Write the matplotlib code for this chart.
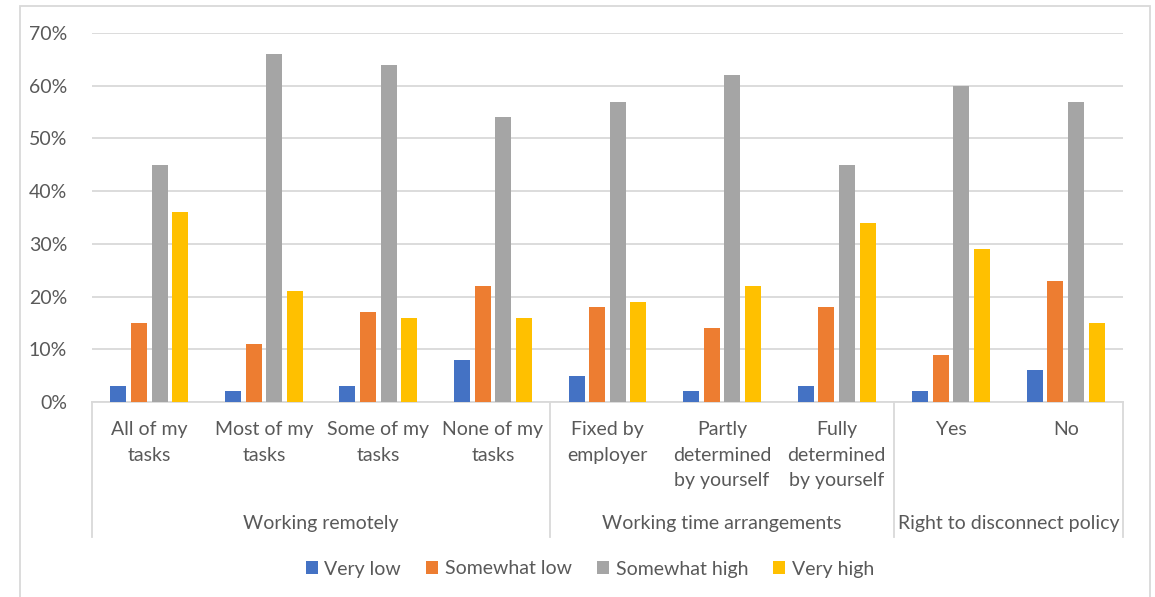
import matplotlib.pyplot as plt
import matplotlib.patches as patches
import numpy as np

# --- data ---
categories = ['All of my\ntasks', 'Most of my\ntasks', 'Some of my\ntasks', 'None of my\ntasks',
              'Fixed by\nemployer', 'Partly\ndetermined\nby yourself', 'Fully\ndetermined\nby yourself',
              'Yes', 'No']
groups = ['Working remotely', 'Working time arrangements', 'Right to disconnect policy']
group_sizes = [4, 3, 2]

series_names = ['Very low', 'Somewhat low', 'Somewhat high', 'Very high']
very_low = [3, 2, 3, 8, 5, 2, 3, 2, 6]
somewhat_low = [15, 11, 17, 22, 18, 14, 18, 9, 23]
somewhat_high = [45, 66, 64, 54, 57, 62, 45, 60, 57]
very_high = [36, 21, 16, 16, 19, 22, 34, 29, 15]
yticks = [0, 10, 20, 30, 40, 50, 60, 70]

colors = ['#4472C4', '#ED7D31', '#A5A5A5', '#FFC000']
text_color = '#595959'
line_color = '#D9D9D9'
fs = 14

plt.rcParams['font.family'] = ['Lato', 'DejaVu Sans']

W, H = 1155, 597
fig = plt.figure(figsize=(W / 100, H / 100), dpi=100)

# axes placed from pixel positions of the reference
x0, x1, y_top, y_zero = 92, 1123, 33, 402
ax = fig.add_axes([x0 / W, 1 - y_zero / H, (x1 - x0) / W, (y_zero - y_top) / H])

x = np.arange(len(categories))
step = 0.18
width = 0.14
all_series = [very_low, somewhat_low, somewhat_high, very_high]
for i, (vals, name, col) in enumerate(zip(all_series, series_names, colors)):
    ax.bar(x + (i - 1.5) * step, vals, width=width, color=col, label=name, zorder=3)

ax.set_xlim(-0.5, len(categories) - 0.5)
ax.set_ylim(0, 70)
ax.set_yticks(yticks)
ax.set_yticklabels([f'{t}%' for t in yticks], fontsize=fs, color=text_color)
ax.tick_params(axis='y', length=0, pad=18)
ax.set_xticks([])
ax.grid(axis='y', color=line_color, linewidth=1.3, zorder=0)
for s in ['top', 'right', 'left']:
    ax.spines[s].set_visible(False)
ax.spines['bottom'].set_color(line_color)
ax.spines['bottom'].set_linewidth(1.3)

# category and group labels below the axis
px = lambda ypix: (y_zero - ypix) / (y_zero - y_top)
trans = ax.get_xaxis_transform()
for xi, lab in zip(x, categories):
    ax.text(xi, px(421), lab, transform=trans, ha='center', va='top',
            fontsize=fs, color=text_color, linespacing=1.62)

start = 0
seps = [-0.5]
for g, n in zip(groups, group_sizes):
    mid = start + (n - 1) / 2
    ax.text(mid, px(523), g, transform=trans, ha='center', va='center',
            fontsize=fs, color=text_color)
    start += n
    seps.append(start - 0.5)
for sx in seps:
    ax.plot([sx, sx], [0, px(537)], transform=trans, color=line_color,
            linewidth=1.3, clip_on=False)

# legend
fig.legend(loc='center', bbox_to_anchor=(590 / W, 1 - 569 / H), ncol=4, frameon=False,
           fontsize=fs, handlelength=0.6, handleheight=0.6, handletextpad=0.35,
           columnspacing=1.3, labelcolor=text_color)

# outer chart border
fig.patches.append(patches.Rectangle((20 / W, -0.01), (1150 - 20) / W, 1 - 6 / H + 0.01,
                                     transform=fig.transFigure, fill=False,
                                     edgecolor=line_color, linewidth=1.3))

fig.savefig('out.png', dpi=100)
